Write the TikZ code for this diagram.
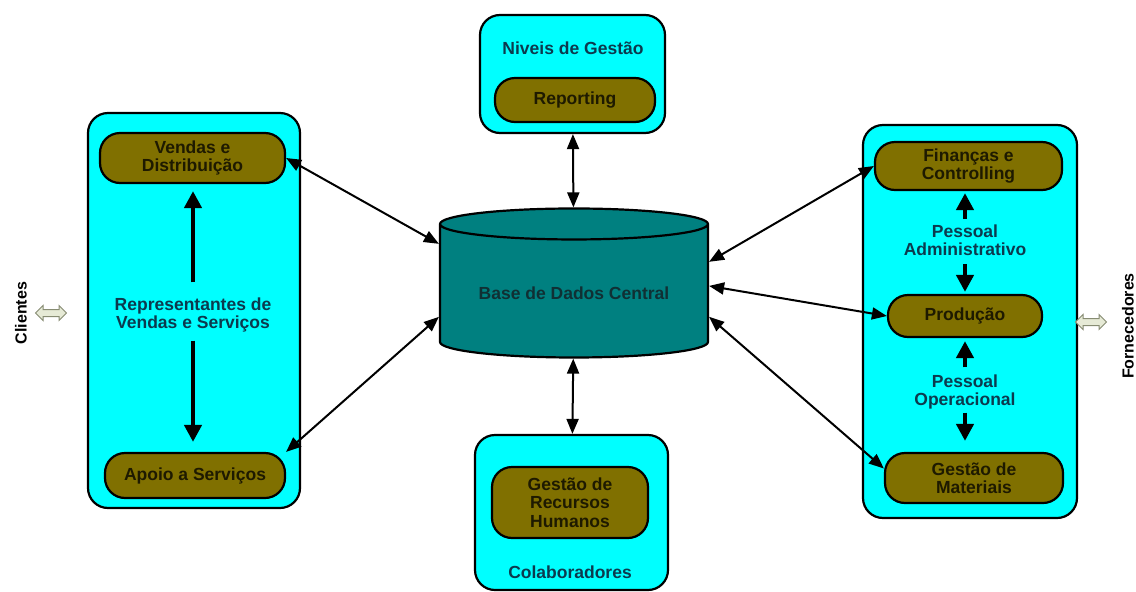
\documentclass[tikz,border=0pt]{standalone}
\usepackage{fontspec}
\setmainfont{Liberation Sans}
\usepackage{xcolor}
\usetikzlibrary{arrows.meta,shapes.geometric,shapes.arrows}

\definecolor{boxcyan}{RGB}{0,255,255}
\definecolor{pillolive}{RGB}{128,112,0}
\definecolor{dbteal}{RGB}{0,128,128}
\definecolor{paneltext}{RGB}{12,58,78}
\definecolor{pilltext}{RGB}{30,26,0}
\definecolor{dbtext}{RGB}{16,48,52}
\definecolor{hollowfill}{RGB}{230,234,214}
\definecolor{hollowline}{RGB}{135,140,115}

\tikzset{
        panel/.style={draw=black,line width=2.2pt,fill=boxcyan,rounded corners=20pt},
        pill/.style={draw=black,line width=2.2pt,fill=pillolive,rounded corners=20pt,text=pilltext,
        font=\bfseries\fontsize{17.5}{18.5}\selectfont,align=center,inner sep=0pt},
        paneltxt/.style={text=paneltext,font=\bfseries\fontsize{17.5}{18.5}\selectfont,align=center,inner sep=0pt},
        sidetxt/.style={rotate=90,font=\bfseries\fontsize{16}{18}\selectfont},
        link/.style={line width=2pt,{Triangle[length=15pt,width=12pt]}-{Triangle[length=15pt,width=12pt]}},
        bigarrow/.style={line width=4.5pt,-{Triangle[length=17pt,width=17pt]}},
        hollow/.style={shape=double arrow,draw=hollowline,fill=hollowfill,line width=1pt,
        minimum height=31pt,double arrow head extend=4pt,inner sep=3pt}
}

\begin{document}
\begin{tikzpicture}[x=1pt,y=-1pt]
        \useasboundingbox (0,0) rectangle (1136,592);

        \node[panel,minimum width=212pt,minimum height=395pt] (lbox) at (194,310.5) {};
        \node[panel,minimum width=214pt,minimum height=393pt] (rbox) at (970,321.5) {};
        \node[panel,minimum width=185pt,minimum height=118pt] (topbox) at (572.5,74) {};
        \node[panel,minimum width=193pt,minimum height=155pt] (botbox) at (571.5,512.5) {};

        \node[pill,minimum width=185pt,minimum height=50pt] (vendas) at (192.5,158) {Vendas e\\Distribuição};
        \node[pill,minimum width=180pt,minimum height=45pt] (apoio) at (195,475.5) {Apoio a Serviços};
        \node[paneltxt] (rep) at (193,315) {Representantes de\\Vendas e Serviços};

        \node[pill,minimum width=187pt,minimum height=48pt] (fin) at (968.5,166) {Finanças e\\Controlling};
        \node[pill,minimum width=154pt,minimum height=42pt] (prod) at (965,316) {Produção};
        \node[pill,minimum width=178pt,minimum height=50pt] (gmat) at (974,478) {Gestão de\\Materiais};
        \node[paneltxt] (padm) at (965,240) {Pessoal\\Administrativo};
        \node[paneltxt] (pop) at (965,392) {Pessoal\\Operacional};

        \node[paneltxt] (niveis) at (573,48) {Niveis de Gestão};
        \node[pill,minimum width=160pt,minimum height=44pt] (report) at (575,100) {Reporting};
        \node[pill,minimum width=156pt,minimum height=71pt] (ghr) at (570,502.5) {Gestão de\\Recursos\\Humanos};
        \node[paneltxt] (colab) at (570,572) {Colaboradores};

        \node[shape=cylinder,shape border rotate=90,aspect=0.157,draw=black,line width=2.2pt,fill=dbteal,
        minimum width=268pt,minimum height=149pt,text=dbtext,font=\bfseries\fontsize{17.5}{18.5}\selectfont] (db) at (574,293) {Base de Dados Central};

        \node[sidetxt] (clientes) at (21,313) {Clientes};
        \node[hollow] (cliarrow) at (51,313) {};
        \node[sidetxt] (fornec) at (1128,326) {Fornecedores};
        \node[hollow] (forarrow) at (1091,322) {};

        \draw[bigarrow,shorten <=15pt,shorten >=7pt] (rep.north) -- (rep.north |- vendas.south);
        \draw[bigarrow,shorten <=8pt,shorten >=10pt] (rep.south) -- (rep.south |- apoio.north);
        \draw[bigarrow,shorten <=5pt,shorten >=2pt] (padm.north) -- (padm.north |- fin.south);
        \draw[bigarrow,shorten <=8pt,shorten >=2pt] (padm.south) -- (padm.south |- prod.north);
        \draw[bigarrow,shorten <=7pt,shorten >=3pt] (pop.north) -- (pop.north |- prod.south);
        \draw[bigarrow,shorten <=3pt,shorten >=11pt] (pop.south) -- (pop.south |- gmat.north);

        \draw[link] (vendas.east) -- (db.160);
        \draw[link] (apoio.north east) -- (db.190);
        \draw[link] (topbox) -- (db);
        \draw[link] (db) -- (botbox);
        \draw[link] (db.13) -- (fin.west);
        \draw[link] (db.3) -- (prod.west);
        \draw[link] (db.-10) -- (gmat.174);
\end{tikzpicture}
\end{document}
